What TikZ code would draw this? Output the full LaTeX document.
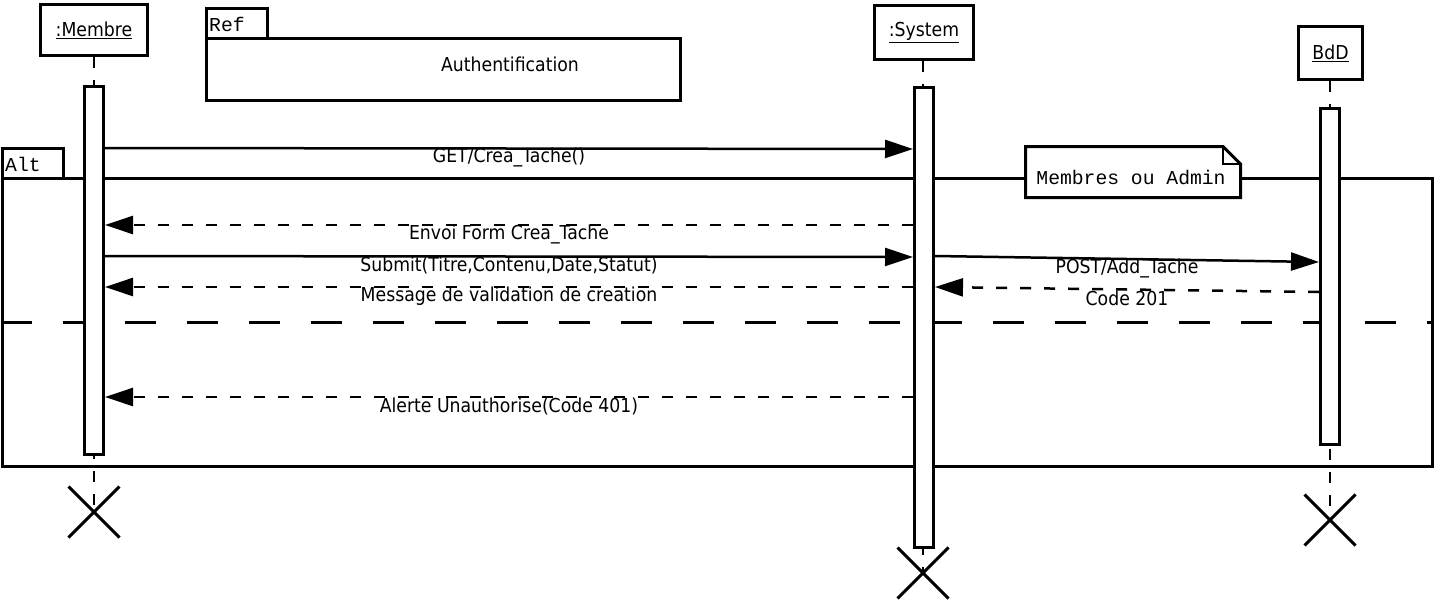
\documentclass[tikz,border=0pt]{standalone}
\usepackage{fontspec}
\setmainfont{DejaVu Sans}[FakeStretch=0.9]
\newfontfamily\monof{Liberation Mono}
\usetikzlibrary{arrows.meta,shapes.misc}
\begin{document}
\begin{tikzpicture}[x=1pt,y=-1pt,
  obj/.style={draw, line width=3pt, fill=white, inner sep=0pt, font=\fontsize{19.2}{22}\selectfont},
  act/.style={draw, line width=3pt, fill=white, inner sep=0pt, minimum width=19pt},
  life/.style={line width=1.2pt, dash pattern=on 11pt off 12pt},
  killx/.style={draw, cross out, line width=3pt, minimum size=48pt, inner sep=0pt},
  frame/.style={draw, line width=3pt, inner sep=0pt},
  monotxt/.style={inner sep=0pt, font=\monof\fontsize{19.7}{22}\selectfont},
  sync/.style={line width=2.5pt, -{Triangle[length=28pt,width=18pt]}},
  reply/.style={line width=2.5pt, dash pattern=on 11pt off 13pt, -{Triangle[length=28pt,width=18pt]}},
  lbl/.style={midway, yshift=-9pt, inner sep=0pt, font=\fontsize{19.2}{22}\selectfont},
]
\useasboundingbox[fill=white] (0,0) rectangle (1436,600);

% Alt frame
\node[frame, minimum width=1430pt, minimum height=288pt] (alt) at (717,322) {};
\draw[line width=3pt] (2,178) -- (2,148) -- (63,148) -- (63,178);
\node[monotxt, anchor=west] (alttxt) at (5,164) {Alt};
\draw[line width=2.5pt, dash pattern=on 31pt off 31pt] (alt.west |- 0,322.5) -- (alt.east |- 0,322.5);

% Ref frame
\node[frame, minimum width=473.5pt, minimum height=62pt] (ref) at (443.25,69.5) {};
\draw[line width=3pt] (206.5,38.5) -- (206.5,8) -- (267.5,8) -- (267.5,38.5);
\node[monotxt, anchor=west] (reftxt) at (209,24) {Ref};
\node[inner sep=0pt, font=\fontsize{19.2}{22}\selectfont] (auth) at (510,64) {Authentification};

% objects
\node[obj, minimum width=107pt, minimum height=51pt] (membre) at (94,30) {\underline{:Membre}};
\node[obj, minimum width=99pt, minimum height=54pt] (system) at (924,32.5) {\underline{:System}};
\node[obj, minimum width=64pt, minimum height=53pt] (bdd) at (1330.5,53) {\underline{BdD}};

% destruction marks
\node[killx] (xm) at (94,512) {};
\node[killx] (xs) at (923,573) {};
\node[killx] (xb) at (1330,520) {};

% lifelines
\draw[life] (membre.south) -- (xm.center);
\draw[life] (system.south -| xs) -- (xs.center);
\draw[life] (bdd.south -| xb) -- (xb.center);

% activations
\node[act, minimum height=368pt] (am) at (94,270.5) {};
\node[act, minimum height=460pt] (as) at (924,317.5) {};
\node[act, minimum height=336pt] (ab) at (1330,276.5) {};

% note
\draw[line width=3pt, fill=white] (1025.5,146.5) -- (1223,146.5) -- (1240.5,164) -- (1240.5,197.5) -- (1025.5,197.5) -- cycle;
\draw[line width=1.5pt] (1223,146.5) -- (1223,164) -- (1240.5,164);
\node[monotxt] (note) at (1131,177) {Membres ou Admin};

% messages
\draw[sync] (am.east |- 0,148) -- node[lbl]{GET/Crea\_Tache()} (as.west |- 0,149);
\draw[reply] (as.west |- 0,225) -- node[lbl]{Envoi Form Crea\_Tache} (am.east |- 0,225);
\draw[sync] (am.east |- 0,256) -- node[lbl]{Submit(Titre,Contenu,Date,Statut)} (as.west |- 0,257);
\draw[sync] (as.east |- 0,256) -- node[lbl]{POST/Add\_Tache} (ab.west |- 0,262);
\draw[reply] (as.west |- 0,287) -- node[lbl]{Message de validation de creation} (am.east |- 0,287);
\draw[reply] (ab.west |- 0,292) -- node[lbl]{Code 201} (as.east |- 0,287);
\draw[reply] (as.west |- 0,397) -- node[lbl]{Alerte Unauthorise(Code 401)} (am.east |- 0,397);
\end{tikzpicture}
\end{document}
